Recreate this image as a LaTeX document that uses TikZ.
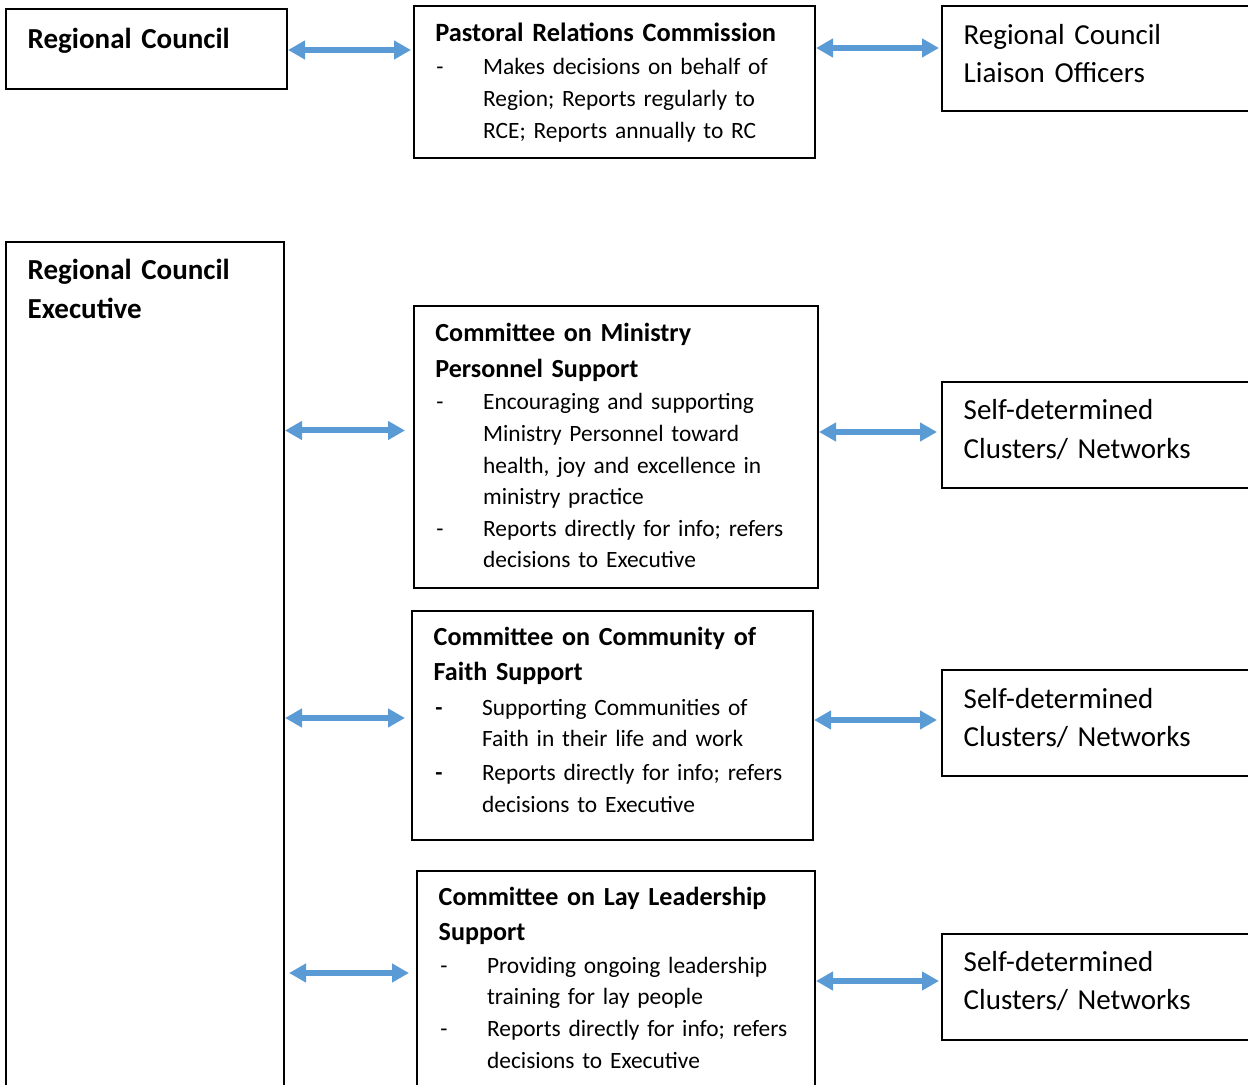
\documentclass[tikz,border=0pt]{standalone}
\usepackage{fontspec}
\setmainfont{Carlito}
\usepackage{xcolor}
\usepackage{tikz}
\usetikzlibrary{arrows.meta,fit}
\definecolor{lblue}{HTML}{5B9BD5}
\pgfdeclarelayer{edgelayer}
\pgfdeclarelayer{nodelayer}
\pgfsetlayers{edgelayer,nodelayer,main}
\tikzstyle{box}=[rectangle,draw=black,line width=1pt,inner sep=0pt]
\tikzstyle{heading}=[anchor=base west,inner sep=0pt,text width=200pt,align=left,font=\fontsize{13.05}{17.9}\selectfont\bfseries]
\tikzstyle{bighead}=[style=heading,font=\fontsize{14.5}{19.8}\selectfont\bfseries]
\tikzstyle{smallhead}=[style=heading,font=\fontsize{13.2}{16}\selectfont\bfseries]
\tikzstyle{items}=[anchor=base west,inner sep=0pt,text width=200pt,align=left,font=\fontsize{11.7}{15.8}\selectfont]
\tikzstyle{plain}=[anchor=base west,inner sep=0pt,text width=170pt,align=left,font=\fontsize{14.5}{19.1}\selectfont]
\tikzstyle{biarrow}=[{Triangle[width=9pt,length=8.5pt]}-{Triangle[width=9pt,length=8.5pt]},draw=lblue,line width=3pt]
\newcommand{\bul}{\leavevmode\llap{\makebox[23.4pt][l]{-}}}
\newcommand{\bbul}{\leavevmode\llap{\makebox[23.4pt][l]{\bfseries -}}}

\begin{document}
\begin{tikzpicture}[x=0.5pt,y=-0.5pt]
	\useasboundingbox (0,0) rectangle (1248,1085);
	\begin{pgfonlayer}{nodelayer}
	\begin{scope}
		\clip (0,0) rectangle (1248,1085);
		% boxes
		\node [style=box, fit={(6,9) (287,89.5)}] (0) {};
		\node [style=box, fit={(414,6) (815,158)}] (1) {};
		\node [style=box, fit={(942,6) (1300,111)}] (2) {};
		\node [style=box, fit={(6,242) (284,1200)}] (3) {};
		\node [style=box, fit={(414,306) (818,588)}] (4) {};
		\node [style=box, fit={(942,382) (1300,488)}] (5) {};
		\node [style=box, fit={(412,611) (813,840)}] (6) {};
		\node [style=box, fit={(942,670) (1300,776)}] (7) {};
		\node [style=box, fit={(417,871) (815,1200)}] (8) {};
		\node [style=box, fit={(942,934) (1300,1040)}] (9) {};
		% texts
		\node [style=bighead] (10) at (27.3, 48.3) {Regional Council};
		\node [style=smallhead] (11) at (435, 41.7) {Pastoral Relations Commission};
		\node [style=items] (12) at (482.7, 75) {\bul Makes decisions on behalf of\\Region; Reports regularly to\\RCE; Reports annually to RC};
		\node [style=plain] (13) at (963.3, 44.5) {Regional Council\\Liaison Officers};
		\node [style=bighead] (14) at (27.3, 279.3) {Regional Council\\Executive};
		\node [style=heading] (15) at (435, 341.7) {Committee on Ministry\\Personnel Support};
		\node [style=items] (16) at (482.7, 410) {\bul Encouraging and supporting\\Ministry Personnel toward\\health, joy and excellence in\\ministry practice\\\bul Reports directly for info; refers\\decisions to Executive};
		\node [style=plain] (17) at (963.3, 420) {Self-determined\\Clusters/ Networks};
		\node [style=heading] (18) at (433.3, 645) {Committee on Community of\\Faith Support};
		\node [style=items] (19) at (481.7, 715) {\bbul Supporting Communities of\\Faith in their life and work\\[1.2pt]\bbul Reports directly for info; refers\\decisions to Executive};
		\node [style=plain] (20) at (963.3, 708) {Self-determined\\Clusters/ Networks};
		\node [style=heading] (21) at (438.3, 905) {Committee on Lay Leadership\\Support};
		\node [style=items] (22) at (486.7, 973.3) {\bul Providing ongoing leadership\\training for lay people\\\bul Reports directly for info; refers\\decisions to Executive};
		\node [style=plain] (23) at (963.3, 971.7) {Self-determined\\Clusters/ Networks};
	\end{scope}
	\end{pgfonlayer}
	\begin{pgfonlayer}{edgelayer}
		\draw [style=biarrow, shorten >=1pt] (0.east |- 0,50) to (1.west |- 0,50);
		\draw [style=biarrow, shorten >=1pt] (1.east |- 0,48) to (2.west |- 0,48);
		\draw [style=biarrow, shorten >=4pt] (3.east |- 0,430.5) to (4.west |- 0,430.5);
		\draw [style=biarrow, shorten >=2pt] (4.east |- 0,432) to (5.west |- 0,432);
		\draw [style=biarrow, shorten >=3pt] (3.east |- 0,718) to (6.west |- 0,718);
		\draw [style=biarrow, shorten >=2pt] (6.east |- 0,720) to (7.west |- 0,720);
		\draw [style=biarrow, shorten >=3.5pt, shorten <=2pt] (3.east |- 0,973) to (8.west |- 0,973);
		\draw [style=biarrow, shorten >=1pt] (8.east |- 0,981) to (9.west |- 0,981);
	\end{pgfonlayer}
\end{tikzpicture}
\end{document}
